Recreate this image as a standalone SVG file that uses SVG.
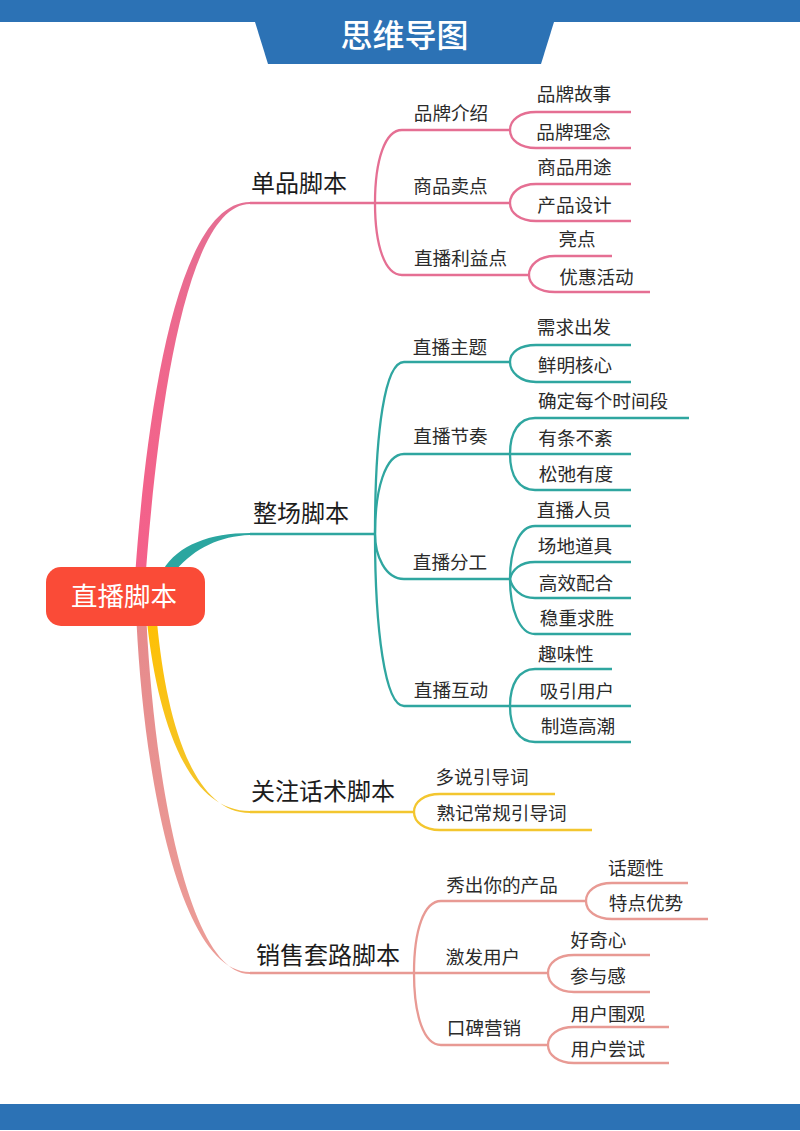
<svg xmlns="http://www.w3.org/2000/svg" width="800" height="1131" viewBox="0 0 800 1131">
<style>
text{font-family:"Noto Sans CJK SC","Noto Sans",sans-serif;text-anchor:middle;fill:#2b2b2b}
.t{font-size:32px;fill:#fff;font-weight:500}
.c{font-size:26.500px;fill:#fff}
.b{font-size:24px;fill:#1c1c1c}
.s{font-size:18.600px}
.l{fill:none;stroke-width:2.300}
.pk{stroke:#E56F93}.te{stroke:#2FA6A0}.ye{stroke:#F3C62F}.sa{stroke:#E89A94}
</style>
<defs>
<linearGradient id="gp" x1="0" y1="0" x2="0" y2="1"><stop offset="0" stop-color="#E56F93"/><stop offset="0.500" stop-color="#F0668C"/><stop offset="1" stop-color="#F4608A"/></linearGradient>
<linearGradient id="gs" x1="0" y1="0" x2="0" y2="1"><stop offset="0" stop-color="#E68A8C"/><stop offset="1" stop-color="#EC9E98"/></linearGradient>
<linearGradient id="gy" x1="0" y1="0" x2="0" y2="1"><stop offset="0" stop-color="#FEC006"/><stop offset="1" stop-color="#F3C62F"/></linearGradient>
</defs>
<rect id="top-band" x="0" y="0" width="800" height="22" fill="#2C72B5"/>
<polygon id="title-tab" points="255,22 554,22 541,64 268,64" fill="#2C72B5"/>
<rect id="bottom-band" x="0" y="1104" width="800" height="26" fill="#2C72B5"/>
<text class="t" x="404.500" y="47">思维导图</text>
<g id="connectors">
<path fill="url(#gp)" d="M135.500,570C145,440 172,202 250,202V204C182,204 156,440 146,570Z"/>
<path fill="#2BA6A0" d="M163,570C178,545 210,533 250,533V535C220,536 195,548 176,570Z"/>
<path fill="url(#gs)" d="M136.500,622C145,792 183,972 250,972V974C190,974 155,788 146.500,622Z"/>
<path fill="url(#gy)" d="M147,622C158,722 188,811 250,811V813C192,813 166,718 157,622Z"/>
<g class="pk">
<path class="l" d="M250,203H510"/>
<path class="l" d="M375,203C375,160 385,130 402,130H510"/>
<path class="l" d="M375,203C375,246 385,275 402,275H529"/>
<path class="l" d="M510,130C510,120 520,112 536,112H631"/><path class="l" d="M510,130C510,140 520,148 536,148H631"/>
<path class="l" d="M510,203C510,193 520,184 536,184H631"/><path class="l" d="M510,203C510,213 520,221 536,221H631"/>
<path class="l" d="M529,275C529,265 539,256 555,256H612"/><path class="l" d="M529,275C529,285 539,292 555,292H650"/>
</g>
<g class="te">
<path class="l" d="M250,534H375"/>
<path class="l" d="M375,534C375,430 385,362 404,362H510"/>
<path class="l" d="M375,534C375,490 385,454 404,454H510"/>
<path class="l" d="M375,534C375,555 385,579 404,579H510"/>
<path class="l" d="M375,534C375,630 385,706 404,706H510"/>
<path class="l" d="M510,362C510,352 520,345 536,345H631"/><path class="l" d="M510,362C510,372 520,382 536,382H631"/>
<path class="l" d="M510,454C510,432 519,418 535,418H689"/><path class="l" d="M510,454H631"/><path class="l" d="M510,454C510,476 519,490 535,490H631"/>
<path class="l" d="M510,579C510,550 519,526 535,526H631"/><path class="l" d="M510,579C512,570 520,562 535,562H631"/><path class="l" d="M510,579C512,588 520,598 535,598H631"/><path class="l" d="M510,579C510,608 519,634 535,634H631"/>
<path class="l" d="M510,706C510,684 519,669 535,669H612"/><path class="l" d="M510,706H631"/><path class="l" d="M510,706C510,728 519,742 535,742H631"/>
</g>
<g class="ye">
<path class="l" d="M250,812H414"/>
<path class="l" d="M414,812C414,802 424,794 440,794H555"/><path class="l" d="M414,812C414,822 424,830 440,830H592"/>
</g>
<g class="sa">
<path class="l" d="M250,973H548"/>
<path class="l" d="M414,973C414,930 424,901 441,901H586"/>
<path class="l" d="M414,973C414,1016 424,1045 441,1045H548"/>
<path class="l" d="M586,901C586,891 596,883 612,883H688"/><path class="l" d="M586,901C586,911 596,919 612,919H708"/>
<path class="l" d="M548,973C548,963 558,955 574,955H650"/><path class="l" d="M548,973C548,983 558,992 574,992H650"/>
<path class="l" d="M548,1045C548,1035 558,1027 574,1027H669"/><path class="l" d="M548,1045C548,1055 558,1063 574,1063H669"/>
</g>
</g>
<g id="root"><rect x="46" y="567" width="159" height="59" rx="15" fill="#FA4B37"/><text class="c" x="124" y="606">直播脚本</text></g>
<g id="n1"><text class="b" x="299" y="192">单品脚本</text></g>
<g id="n2"><text class="b" x="301" y="522">整场脚本</text></g>
<g id="n3"><text class="b" x="323" y="800">关注话术脚本</text></g>
<g id="n4"><text class="b" x="328" y="964">销售套路脚本</text></g>
<g id="n1a"><text class="s" x="451" y="120">品牌介绍</text></g>
<g id="n1a1"><text class="s" x="574" y="101">品牌故事</text></g>
<g id="n1a2"><text class="s" x="573.500" y="139">品牌理念</text></g>
<g id="n1b"><text class="s" x="450.500" y="193">商品卖点</text></g>
<g id="n1b1"><text class="s" x="574.500" y="174">商品用途</text></g>
<g id="n1b2"><text class="s" x="574.500" y="212">产品设计</text></g>
<g id="n1c"><text class="s" x="460.500" y="265">直播利益点</text></g>
<g id="n1c1"><text class="s" x="577" y="246">亮点</text></g>
<g id="n1c2"><text class="s" x="596.500" y="284">优惠活动</text></g>
<g id="n2a"><text class="s" x="450" y="354">直播主题</text></g>
<g id="n2a1"><text class="s" x="574" y="334">需求出发</text></g>
<g id="n2a2"><text class="s" x="575" y="372">鲜明核心</text></g>
<g id="n2b"><text class="s" x="450.500" y="443">直播节奏</text></g>
<g id="n2b1"><text class="s" x="603" y="408">确定每个时间段</text></g>
<g id="n2b2"><text class="s" x="575.500" y="445">有条不紊</text></g>
<g id="n2b3"><text class="s" x="576" y="481">松弛有度</text></g>
<g id="n2c"><text class="s" x="450" y="569">直播分工</text></g>
<g id="n2c1"><text class="s" x="574" y="517">直播人员</text></g>
<g id="n2c2"><text class="s" x="575" y="553">场地道具</text></g>
<g id="n2c3"><text class="s" x="576" y="590">高效配合</text></g>
<g id="n2c4"><text class="s" x="577" y="625">稳重求胜</text></g>
<g id="n2d"><text class="s" x="451" y="697">直播互动</text></g>
<g id="n2d1"><text class="s" x="566" y="661">趣味性</text></g>
<g id="n2d2"><text class="s" x="577" y="698">吸引用户</text></g>
<g id="n2d3"><text class="s" x="578" y="733">制造高潮</text></g>
<g id="n3a"><text class="s" x="482" y="784">多说引导词</text></g>
<g id="n3b"><text class="s" x="501.500" y="820">熟记常规引导词</text></g>
<g id="n4a"><text class="s" x="502" y="892">秀出你的产品</text></g>
<g id="n4a1"><text class="s" x="636" y="875">话题性</text></g>
<g id="n4a2"><text class="s" x="646" y="910">特点优势</text></g>
<g id="n4b"><text class="s" x="483" y="964">激发用户</text></g>
<g id="n4b1"><text class="s" x="598.500" y="947">好奇心</text></g>
<g id="n4b2"><text class="s" x="598" y="983">参与感</text></g>
<g id="n4c"><text class="s" x="484" y="1035">口碑营销</text></g>
<g id="n4c1"><text class="s" x="608" y="1021">用户围观</text></g>
<g id="n4c2"><text class="s" x="608" y="1056">用户尝试</text></g>
</svg>
